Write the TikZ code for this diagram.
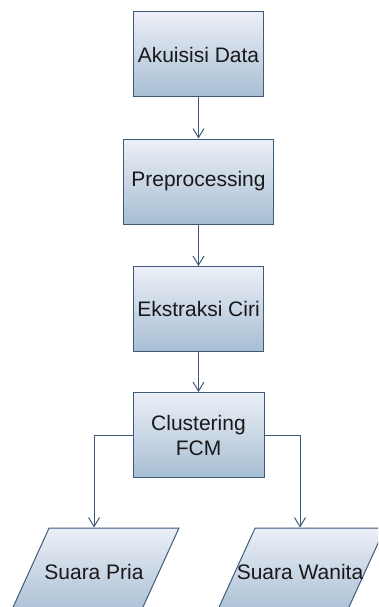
\documentclass[tikz,border=0pt]{standalone}
\usepackage{fontspec}
\setmainfont{Liberation Sans}
\usetikzlibrary{positioning,shapes.geometric,arrows.meta}

\definecolor{edgeblue}{HTML}{3F5B7A}
\definecolor{filltop}{HTML}{ECEFF7}
\definecolor{fillbot}{HTML}{A7BED3}

\begin{document}
\begin{tikzpicture}[x=1pt, y=1pt, >={Straight Barb[length=9pt,width=11pt]},
  flowbase/.style={draw=edgeblue, line width=1pt, top color=filltop, bottom color=fillbot,
    font=\fontsize{21}{25}\selectfont, text=black!90, align=center, inner sep=0pt},
  stepbox/.style={flowbase, rectangle, minimum width=130, minimum height=85},
  outbox/.style={flowbase, trapezium, trapezium left angle=65.5, trapezium right angle=114.5,
    trapezium stretches body, minimum width=170, text height=44pt, text depth=44pt},
  link/.style={draw=edgeblue, line width=1pt}]

\useasboundingbox (0,0) rectangle (378,-607);
\clip (0,0) rectangle (378,-607);

% process boxes
\foreach \n/\t/\w/\y in {acq/Akuisisi Data/130/54.5, pre/Preprocessing/150/181.5,
                          ext/Ekstraksi Ciri/130/309, fcm/{Clustering\\FCM}/131/435}
  \node [stepbox, minimum width=\w] (\n) at (198.5,-\y) {\t};

% outputs
\foreach \n/\t/\x in {pria/Suara Pria/94, wanita/Suara Wanita/300}
  \node [outbox, label={[font=\fontsize{21}{25}\selectfont, text=black!90]center:\t}] (\n) at (\x,-572) {};

% Connections
\draw [link, ->] (acq) -- (pre);
\draw [link, ->] (pre) -- (ext);
\draw [link, ->] (ext) -- (fcm);
\draw [link, ->] (fcm.west) -| (pria.north);
\draw [link, ->] (fcm.east) -| (wanita.north);

\end{tikzpicture}
\end{document}
